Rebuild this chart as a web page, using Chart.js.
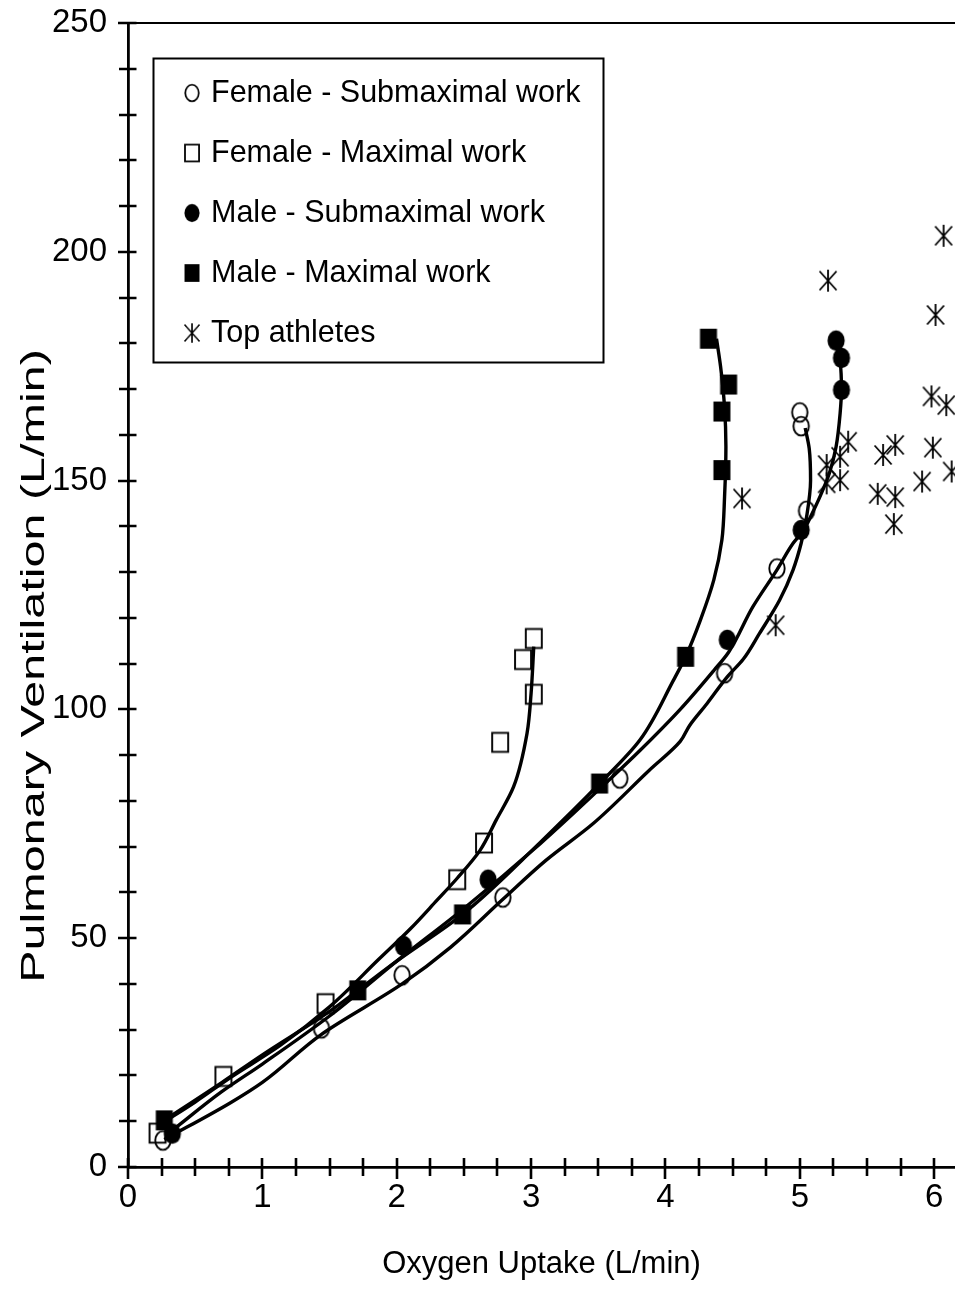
<!DOCTYPE html>
<html><head><meta charset="utf-8">
<script src="https://cdn.jsdelivr.net/npm/chart.js@4.4.1/dist/chart.umd.min.js"></script>
<style>html,body{margin:0;padding:0;background:#fff;}#wrap{width:955px;height:1295px;}</style>
</head><body><div id="wrap"><canvas id="c" width="955" height="1295"></canvas></div>
<script>
// ---- data ----
const femaleSubX = [0.26, 1.44, 2.04, 2.79, 3.66, 4.44, 4.83, 5.05, 5.01, 5.00];
const femaleSubY = [5.8, 30.3, 41.9, 58.9, 84.9, 107.9, 130.8, 143.4, 161.9, 164.9];
const femaleMaxX = [0.22, 0.71, 1.47, 2.45, 2.65, 2.77, 2.94, 3.02, 3.02];
const femaleMaxY = [7.4, 19.8, 35.7, 62.8, 70.8, 92.8, 110.9, 115.5, 103.3];
const maleSubX = [0.33, 2.05, 2.68, 4.46, 5.01, 5.31, 5.31, 5.27];
const maleSubY = [7.3, 48.3, 62.8, 115.2, 139.2, 169.8, 176.8, 180.6];
const maleMaxX = [0.27, 1.71, 2.49, 3.51, 4.15, 4.42, 4.42, 4.47, 4.32];
const maleMaxY = [10.2, 38.6, 55.2, 83.8, 111.5, 152.3, 165.1, 171.0, 181.0];
const athleteX = [6.07, 5.21, 6.01, 5.98, 6.09, 5.36, 5.71, 5.99, 5.62, 5.30, 5.20, 6.13, 5.30, 5.20, 5.91, 5.58, 5.71, 5.70, 4.57, 4.82];
const athleteY = [203.5, 193.7, 186.2, 168.4, 166.5, 158.5, 157.8, 157.2, 155.6, 155.2, 153.4, 152.0, 150.1, 149.4, 149.8, 147.1, 146.4, 140.5, 146.1, 118.4];

// fitted curves
const femaleSubCurveX = [0.27, 0.76, 1.0, 1.44, 2.04, 2.4, 2.79, 3.11, 3.46, 3.88, 4.11, 4.18, 4.31, 4.46, 4.58, 4.70, 4.85, 4.95, 5.01, 5.05, 5.08, 5.07, 5.04];
const femaleSubCurveY = [6, 14, 18.5, 29, 40, 48, 58.5, 67, 75, 86.7, 93, 96.5, 101.3, 107.1, 111, 116.6, 123.9, 130.5, 136.3, 142, 150, 157, 161.5];
const femaleMaxCurveX = [0.25, 0.5, 0.76, 1.13, 1.5, 1.87, 2.1, 2.3, 2.45, 2.62, 2.74, 2.87, 2.97, 3.0, 3.02];
const femaleMaxCurveY = [9.5, 14.2, 19.5, 26.5, 35, 45.5, 52, 58.3, 63.1, 69.2, 75.8, 83.1, 94.8, 103.5, 113.7];
const maleSubCurveX = [0.33, 0.7, 1.0, 1.5, 2.0, 2.5, 3.07, 3.56, 3.81, 4.11, 4.36, 4.47, 4.65, 4.83, 4.95, 5.03, 5.08, 5.15, 5.22, 5.27, 5.30, 5.31, 5.30, 5.28];
const maleSubCurveY = [8, 16.5, 22.5, 33, 45, 56.5, 70.7, 84, 91, 100, 108.5, 112.5, 122.4, 130.5, 136.3, 139.2, 142.1, 146.5, 151.6, 157.4, 164.7, 170, 176, 179];
const maleMaxCurveX = [0.27, 0.7, 1.0, 1.5, 1.71, 2.0, 2.49, 3.07, 3.51, 3.81, 4.06, 4.15, 4.26, 4.36, 4.42, 4.44, 4.45, 4.44, 4.41, 4.38];
const maleMaxCurveY = [10.2, 18.5, 24.5, 34, 38.6, 45, 55.2, 71, 83.8, 93.3, 106.4, 111.5, 119.5, 128.3, 137, 146.5, 157.4, 166, 175, 181];

const seriesLabels = ['Female - Submaximal work', 'Female - Maximal work', 'Male - Submaximal work', 'Male - Maximal work', 'Top athletes'];
const xTickLabels = ['0', '1', '2', '3', '4', '5', '6'];
const xTitle = 'Oxygen Uptake (L/min)';
const yTitle = 'Pulmonary Ventilation (L/min)';

// ---- helpers ----
const FONT = "'Liberation Sans', Arial, sans-serif";
const pts = (xs, ys) => xs.map((x, i) => ({x, y: ys[i]}));

function marker(kind, filled) {
  const c = document.createElement('canvas');
  c.width = 22; c.height = 26;
  const g = c.getContext('2d');
  g.strokeStyle = '#000'; g.fillStyle = '#000'; g.lineWidth = 1.9;
  if (kind === 'ellipse') {
    g.beginPath(); g.ellipse(11, 13, filled ? 8.6 : 7.7, filled ? 10.2 : 9.4, 0, 0, Math.PI * 2);
    filled ? g.fill() : g.stroke();
  } else if (kind === 'rect') {
    if (filled) g.fillRect(2.5, 3, 17, 20); else g.strokeRect(3, 3.5, 16, 19);
  } else {
    g.lineWidth = 1.8;
    g.beginPath();
    g.moveTo(2.5, 3.5); g.lineTo(19.5, 22.5);
    g.moveTo(19.5, 3.5); g.lineTo(2.5, 22.5);
    g.moveTo(11, 2); g.lineTo(11, 24);
    g.stroke();
  }
  return c;
}
const mOpenCircle = marker('ellipse', false);
const mOpenSquare = marker('rect', false);
const mFillCircle = marker('ellipse', true);
const mFillSquare = marker('rect', true);
const mStar = marker('star', false);
const markerList = [mOpenCircle, mOpenSquare, mFillCircle, mFillSquare, mStar];

const X_MAX = 6.155;

const crossTicks = {
  id: 'crossTicks',
  afterDraw(chart) {
    const {ctx, chartArea, scales} = chart;
    const x = scales.x, y = scales.y;
    ctx.save();
    ctx.strokeStyle = '#000'; ctx.lineWidth = 2.6;
    ctx.beginPath();
    x.ticks.forEach(t => {
      const px = Math.round(x.getPixelForValue(t.value));
      const major = Math.abs(t.value - Math.round(t.value)) < 1e-6;
      ctx.moveTo(px, chartArea.bottom - 9);
      ctx.lineTo(px, chartArea.bottom + (major ? 12 : 9));
    });
    y.ticks.forEach(t => {
      const py = Math.round(y.getPixelForValue(t.value));
      const major = t.value % 50 === 0;
      ctx.moveTo(chartArea.left - (major ? 10 : 9), py);
      ctx.lineTo(chartArea.left + 8.5, py);
    });
    ctx.stroke();
    ctx.restore();
  }
};

const boxedLegend = {
  id: 'boxedLegend',
  afterDraw(chart) {
    const {ctx} = chart;
    ctx.save();
    ctx.fillStyle = '#fff';
    ctx.fillRect(153, 58, 451, 305);
    ctx.strokeStyle = '#000'; ctx.lineWidth = 2;
    ctx.strokeRect(153.5, 58.5, 450, 304);
    ctx.font = '30.5px ' + FONT;
    ctx.fillStyle = '#000';
    ctx.textBaseline = 'alphabetic';
    seriesLabels.forEach((lab, i) => {
      const cy = 93 + 60 * i;
      const img = markerList[i];
      const s = 0.88;
      ctx.drawImage(img, 192 - img.width / 2 * s, cy - img.height / 2 * s, img.width * s, img.height * s);
      ctx.fillText(lab, 211, 101.5 + 60 * i);
    });
    ctx.restore();
  }
};

const yTitlePlugin = {
  id: 'yTitlePlugin',
  afterDraw(chart) {
    const {ctx} = chart;
    ctx.save();
    ctx.translate(35, 666);
    ctx.rotate(-Math.PI / 2);
    ctx.scale(1.47, 1);
    ctx.font = '33px ' + FONT;
    ctx.fillStyle = '#000';
    ctx.textAlign = 'center';
    ctx.textBaseline = 'middle';
    ctx.fillText(yTitle, 0, 0);
    ctx.restore();
  }
};

const noPad = s => { s.paddingTop = 0; s.paddingBottom = 0; s.paddingLeft = 0; s.paddingRight = 0; };

const markerDs = (label, xs, ys, img) => ({
  type: 'scatter', label, data: pts(xs, ys), showLine: false, pointStyle: img, pointRadius: 10, pointHoverRadius: 10,
  borderColor: '#000', backgroundColor: '#000'
});
const curveDs = (label, xs, ys) => ({
  type: 'line', indexAxis: 'y', label, data: pts(xs, ys), showLine: true, pointRadius: 0, pointHoverRadius: 0,
  borderColor: '#000', borderWidth: 3.4, cubicInterpolationMode: 'monotone', fill: false
});

new Chart(document.getElementById('c'), {
  type: 'scatter',
  data: {
    datasets: [
      markerDs(seriesLabels[0], femaleSubX, femaleSubY, mOpenCircle),
      markerDs(seriesLabels[1], femaleMaxX, femaleMaxY, mOpenSquare),
      markerDs(seriesLabels[2], maleSubX, maleSubY, mFillCircle),
      markerDs(seriesLabels[3], maleMaxX, maleMaxY, mFillSquare),
      markerDs(seriesLabels[4], athleteX, athleteY, mStar),
      curveDs('Female - Submaximal fit', femaleSubCurveX, femaleSubCurveY),
      curveDs('Female - Maximal fit', femaleMaxCurveX, femaleMaxCurveY),
      curveDs('Male - Submaximal fit', maleSubCurveX, maleSubCurveY),
      curveDs('Male - Maximal fit', maleMaxCurveX, maleMaxCurveY)
    ]
  },
  options: {
    responsive: false, animation: false, devicePixelRatio: 1,
    layout: {padding: 0, autoPadding: false},
    plugins: {legend: {display: false}, tooltip: {enabled: false}},
    scales: {
      x: {
        type: 'linear', position: 'bottom', min: 0, max: X_MAX,
        afterBuildTicks(s) {
          const out = [];
          for (let v = 0; v <= X_MAX + 1e-9; v += 0.25) out.push({value: Math.round(v * 100) / 100});
          s.ticks = out;
        },
        ticks: {
          autoSkip: false, maxRotation: 0, padding: 11, color: '#000',
          font: {family: FONT, size: 33},
          callback: v => Number.isInteger(v) ? xTickLabels[v] : ''
        },
        grid: {display: false, drawTicks: false},
        border: {display: true, color: '#000', width: 2.8},
        title: {display: true, text: xTitle, color: '#000', font: {family: FONT, size: 31}, padding: {top: 0, bottom: 12}},
        afterFit(s) { s.height = 128; noPad(s); }
      },
      x2: {
        type: 'linear', position: 'top', min: 0, max: X_MAX, display: true,
        ticks: {display: false}, grid: {display: false, drawTicks: false},
        border: {display: true, color: '#000', width: 2},
        afterFit(s) { s.height = 23; noPad(s); }
      },
      y: {
        type: 'linear', position: 'left', min: 0, max: 250,
        ticks: {
          stepSize: 10, autoSkip: false, padding: 21, color: '#000',
          font: {family: FONT, size: 33},
          callback: v => (v % 50 === 0 ? String(v) : '')
        },
        grid: {display: false, drawTicks: false},
        border: {display: true, color: '#000', width: 2.8},
        title: {display: false},
        afterFit(s) { s.width = 128; noPad(s); }
      }
    }
  },
  plugins: [crossTicks, boxedLegend, yTitlePlugin]
});
</script></body></html>
